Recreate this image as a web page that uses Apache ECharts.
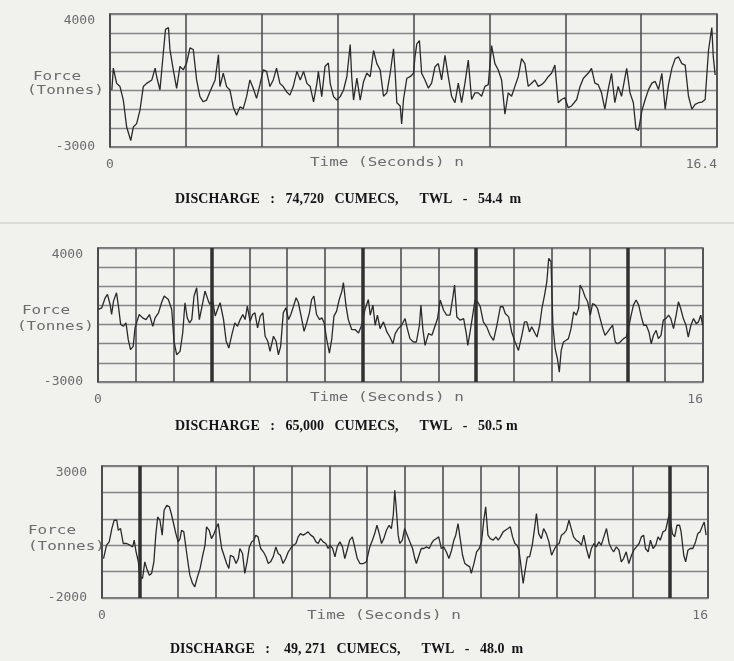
<!DOCTYPE html>
<html><head><meta charset="utf-8">
<script src="https://cdn.jsdelivr.net/npm/echarts@6/dist/echarts.min.js"></script>
<style>html,body{margin:0;padding:0;background:#f1f1ee}#c{width:734px;height:661px}</style>
</head><body><div id="c"></div><script>
// [time (s), force (tonnes)] pairs
const force1 = [[0.05,0],[0.09,1150],[0.18,350],[0.27,180],[0.36,-530],[0.45,-1950],[0.56,-2660],[0.63,-1950],[0.72,-1770],[0.81,-1060],[0.90,180],[0.99,350],[1.13,530],[1.22,1150],[1.26,710],[1.35,0],[1.44,1950],[1.50,3190],[1.58,3280],[1.62,2130],[1.71,1060],[1.80,90],[1.89,1240],[1.98,1060],[2.07,1420],[2.16,2220],[2.25,2130],[2.34,530],[2.43,-350],[2.52,-620],[2.61,-530],[2.70,-90],[2.84,530],[2.93,1860],[2.97,180],[3.06,890],[3.15,180],[3.24,0],[3.33,-890],[3.42,-1330],[3.51,-890],[3.60,-980],[3.69,-350],[3.78,530],[3.87,90],[3.96,-440],[4.05,270],[4.14,1060],[4.23,980],[4.32,180],[4.41,530],[4.50,1150],[4.59,350],[4.68,180],[4.77,-90],[4.86,-270],[4.95,180],[5.05,980],[5.14,530],[5.23,980],[5.32,350],[5.41,180],[5.50,-620],[5.59,350],[5.63,980],[5.72,-350],[5.81,1240],[5.90,1420],[5.95,350],[6.04,-350],[6.13,-530],[6.22,-350],[6.31,0],[6.40,710],[6.49,2390],[6.53,710],[6.58,-530],[6.67,620],[6.76,-530],[6.85,440],[6.94,890],[7.03,700],[7.12,2080],[7.21,1390],[7.30,1050],[7.39,-330],[7.48,-150],[7.57,880],[7.66,2170],[7.70,1050],[7.75,-670],[7.84,-840],[7.88,-1790],[7.93,-500],[8.02,620],[8.11,700],[8.20,880],[8.24,1740],[8.29,2430],[8.36,2600],[8.42,880],[8.51,530],[8.60,100],[8.69,360],[8.78,1220],[8.87,1390],[8.96,530],[9.05,1820],[9.14,700],[9.23,-330],[9.32,-670],[9.41,360],[9.50,-670],[9.59,360],[9.68,1570],[9.77,-500],[9.86,-150],[9.95,-150],[10.04,-330],[10.13,190],[10.22,280],[10.31,2340],[10.40,1390],[10.49,1050],[10.58,530],[10.67,-1270],[10.76,-150],[10.85,-330],[10.94,190],[11.03,700],[11.12,1650],[11.21,1390],[11.30,190],[11.39,360],[11.48,530],[11.57,190],[11.66,280],[11.75,450],[11.84,700],[11.93,880],[12.02,1310],[12.11,-670],[12.20,-500],[12.29,-410],[12.38,-930],[12.47,-840],[12.61,-500],[12.70,190],[12.79,620],[12.92,880],[13.01,1140],[13.10,360],[13.19,280],[13.28,-150],[13.37,-1010],[13.46,20],[13.55,880],[13.64,-670],[13.73,190],[13.82,-330],[13.91,620],[13.96,1140],[14.05,-150],[14.14,-670],[14.21,-2050],[14.28,-2130],[14.37,-1100],[14.46,-500],[14.55,20],[14.64,360],[14.73,450],[14.82,20],[14.91,880],[15.00,-1010],[15.09,280],[15.18,1140],[15.27,1650],[15.36,1740],[15.45,1390],[15.54,1310],[15.63,-330],[15.72,-1010],[15.81,-760],[15.90,-670],[15.99,-640],[16.08,-500],[16.17,2080],[16.26,3290],[16.30,1740],[16.35,790]];

const force2 = [[0.01,790],[0.10,875],[0.19,1400],[0.25,1575],[0.32,1050],[0.36,525],[0.41,1225],[0.49,1660],[0.54,960],[0.60,0],[0.67,-90],[0.74,90],[0.80,-790],[0.86,-1310],[0.93,-1140],[0.98,-175],[1.02,90],[1.09,525],[1.18,350],[1.27,260],[1.36,525],[1.45,-90],[1.51,350],[1.60,610],[1.68,1140],[1.75,1490],[1.86,1310],[1.95,790],[2.01,-875],[2.08,-1575],[2.17,-1400],[2.24,-440],[2.30,1140],[2.36,350],[2.42,90],[2.48,260],[2.54,1490],[2.61,1925],[2.68,260],[2.77,1140],[2.83,1750],[2.92,1225],[2.96,1050],[3.03,1310],[3.10,440],[3.16,790],[3.23,1140],[3.32,260],[3.39,-875],[3.46,-1225],[3.54,-525],[3.62,90],[3.69,-90],[3.76,260],[3.83,525],[3.89,260],[3.95,960],[4.02,175],[4.09,525],[4.15,610],[4.22,-175],[4.29,440],[4.36,610],[4.42,-610],[4.49,-875],[4.55,-1400],[4.64,-610],[4.71,-875],[4.77,-1575],[4.83,-1140],[4.90,610],[4.97,875],[5.04,260],[5.10,525],[5.17,960],[5.24,1400],[5.30,1140],[5.39,260],[5.45,-350],[5.52,90],[5.59,610],[5.65,1310],[5.71,1490],[5.78,525],[5.86,260],[5.92,350],[5.98,90],[6.05,-790],[6.12,-1490],[6.18,-790],[6.24,440],[6.31,700],[6.38,1310],[6.45,1750],[6.49,2190],[6.56,960],[6.62,260],[6.71,-260],[6.80,-260],[6.89,-440],[6.98,0],[7.06,790],[7.15,1310],[7.20,490],[7.27,1015],[7.33,-35],[7.39,490],[7.46,-210],[7.55,140],[7.64,-385],[7.72,-650],[7.80,-1000],[7.86,-470],[7.94,-210],[8.03,-35],[8.12,315],[8.18,-210],[8.25,-735],[8.34,-910],[8.42,-910],[8.50,-35],[8.54,1015],[8.59,-210],[8.65,-1085],[8.74,-470],[8.83,-560],[8.92,-35],[8.98,315],[9.05,1280],[9.14,750],[9.22,490],[9.31,490],[9.38,1365],[9.43,2065],[9.49,400],[9.58,230],[9.67,315],[9.74,-470],[9.78,-1085],[9.84,-385],[9.91,490],[9.97,1280],[10.04,1190],[10.11,930],[10.19,140],[10.28,-120],[10.37,-560],[10.46,-820],[10.55,-35],[10.64,930],[10.71,930],[10.77,580],[10.86,400],[10.94,-385],[11.03,-910],[11.12,-1350],[11.21,-560],[11.28,140],[11.34,140],[11.41,-385],[11.47,-120],[11.54,-385],[11.61,-650],[11.68,-35],[11.74,840],[11.81,1540],[11.87,2240],[11.92,3465],[11.98,3290],[12.03,-35],[12.09,-1260],[12.15,-1785],[12.20,-2485],[12.25,-1350],[12.31,-910],[12.38,-820],[12.44,-735],[12.51,-210],[12.58,665],[12.65,490],[12.71,840],[12.75,2065],[12.82,1800],[12.88,1450],[12.95,1190],[13.02,490],[13.08,1100],[13.15,1015],[13.21,840],[13.28,315],[13.35,-210],[13.41,-560],[13.48,-385],[13.54,-210],[13.61,-35],[13.68,-910],[13.74,-1000],[13.81,-910],[13.90,-735],[13.97,-650],[14.03,-210],[14.09,400],[14.16,1015],[14.23,1280],[14.30,1015],[14.37,400],[14.43,-35],[14.50,-35],[14.57,-385],[14.63,-1000],[14.69,-560],[14.76,-300],[14.82,-735],[14.89,-560],[14.95,230],[15.02,315],[15.09,490],[15.15,315],[15.22,-210],[15.29,490],[15.35,1190],[15.41,840],[15.48,315],[15.55,-35],[15.61,-650],[15.68,-35],[15.75,315],[15.82,50],[15.88,140],[15.94,490],[15.99,-35]];

const force3 = [[0.04,-505],[0.08,-250],[0.12,0],[0.19,125],[0.26,630],[0.32,945],[0.39,945],[0.43,565],[0.49,630],[0.56,65],[0.65,65],[0.74,0],[0.81,-65],[0.85,190],[0.90,-250],[0.96,-630],[1.00,-1200],[1.07,-1260],[1.13,-630],[1.18,-880],[1.25,-1135],[1.31,-1070],[1.37,-630],[1.42,380],[1.47,1070],[1.53,945],[1.59,380],[1.64,1325],[1.71,1510],[1.78,1450],[1.84,1135],[1.90,755],[1.95,440],[2.01,125],[2.06,250],[2.10,565],[2.16,505],[2.22,-125],[2.28,-755],[2.32,-1135],[2.39,-1450],[2.45,-1575],[2.52,-1200],[2.59,-880],[2.66,-380],[2.72,0],[2.76,695],[2.83,565],[2.89,250],[2.96,440],[3.01,630],[3.07,820],[3.11,380],[3.16,-125],[3.22,-380],[3.29,-695],[3.35,-880],[3.39,-380],[3.47,-440],[3.54,-695],[3.60,-505],[3.64,-125],[3.71,-315],[3.77,-1070],[3.83,-630],[3.89,-65],[3.95,125],[4.01,190],[4.06,380],[4.12,315],[4.19,-125],[4.26,-250],[4.33,-440],[4.39,-695],[4.45,-630],[4.52,-440],[4.59,-65],[4.65,-315],[4.71,-380],[4.78,-695],[4.85,-505],[4.92,-250],[4.98,-125],[5.05,0],[5.12,65],[5.18,315],[5.24,440],[5.31,380],[5.38,440],[5.44,505],[5.51,380],[5.58,315],[5.65,125],[5.71,65],[5.77,250],[5.84,125],[5.91,65],[5.97,-125],[6.02,0],[6.09,-125],[6.15,-440],[6.21,-65],[6.28,125],[6.35,-65],[6.41,-505],[6.47,-190],[6.54,190],[6.61,315],[6.68,-125],[6.74,-505],[6.81,-695],[6.90,-695],[6.98,-630],[7.07,-65],[7.14,190],[7.20,440],[7.26,755],[7.32,440],[7.38,65],[7.44,250],[7.51,565],[7.58,755],[7.64,630],[7.69,1135],[7.73,2080],[7.77,1385],[7.82,380],[7.86,65],[7.93,190],[7.99,630],[8.06,380],[8.13,125],[8.20,-125],[8.26,-505],[8.30,-695],[8.37,-380],[8.43,-125],[8.50,-125],[8.57,-65],[8.64,-125],[8.70,65],[8.76,190],[8.83,250],[8.89,315],[8.96,-125],[9.02,-65],[9.09,-250],[9.16,-505],[9.23,-190],[9.29,190],[9.34,380],[9.40,820],[9.45,315],[9.52,-380],[9.58,-695],[9.64,-755],[9.71,-820],[9.75,-1070],[9.82,-695],[9.89,-250],[9.96,-125],[10.02,125],[10.08,945],[10.13,1450],[10.19,380],[10.25,250],[10.33,190],[10.40,315],[10.46,190],[10.52,315],[10.59,505],[10.65,565],[10.72,630],[10.78,695],[10.84,315],[10.90,65],[10.96,0],[11.01,-190],[11.07,-880],[11.12,-1450],[11.18,-880],[11.23,-440],[11.29,-440],[11.36,0],[11.42,630],[11.47,1200],[11.53,440],[11.60,250],[11.66,630],[11.73,440],[11.80,125],[11.87,-380],[11.93,-190],[12.00,0],[12.07,65],[12.13,380],[12.19,440],[12.26,565],[12.33,945],[12.39,630],[12.45,315],[12.52,190],[12.59,125],[12.66,0],[12.72,380],[12.79,-125],[12.86,-505],[12.92,-125],[12.99,65],[13.05,-65],[13.12,125],[13.18,0],[13.25,315],[13.32,630],[13.39,65],[13.45,-125],[13.51,-250],[13.58,-65],[13.65,-190],[13.71,-630],[13.77,-505],[13.84,-250],[13.91,-695],[13.98,-380],[14.04,-190],[14.11,-65],[14.18,65],[14.24,315],[14.30,380],[14.35,-125],[14.42,-250],[14.48,190],[14.55,-125],[14.62,0],[14.68,315],[14.74,190],[14.81,505],[14.88,565],[14.94,945],[14.98,1200],[15.06,440],[15.12,315],[15.18,755],[15.25,755],[15.29,505],[15.36,-380],[15.41,-630],[15.47,-190],[15.53,-125],[15.60,-125],[15.67,125],[15.73,440],[15.79,505],[15.86,755],[15.90,880],[15.95,380]];

const titles = [
  'DISCHARGE   :   74,720   CUMECS,      TWL   -   54.4  m',
  'DISCHARGE   :   65,000   CUMECS,      TWL   -   50.5 m',
  'DISCHARGE   :    49, 271   CUMECS,      TWL   -   48.0  m'
];
const yMinVals = [-3000, -3000, -2000];
const yMaxVals = [4000, 4000, 3000];
const xMaxVals = [16.4, 16, 16];
const xSteps = [2.05, 1, 1];
const xTickLabels = [['0', '16.4'], ['0', '16'], ['0', '16']];
const thickLines = [[], [3, 7, 10, 14], [1, 15]];
const yName = ['Force', '(Tonnes)'];
const xName = 'Time (Seconds) n';

const allData = [force1, force2, force3];
const grids = [
  {left: 110, top: 14, width: 607, height: 133},
  {left: 98, top: 248, width: 605, height: 134},
  {left: 102, top: 466, width: 606, height: 132}
];
const titlePos = [{left: 175, top: 192}, {left: 175, top: 419}, {left: 170, top: 642}];
const forcePos = [[33, 77, 27, 91], [22, 311, 17, 327], [28, 531, 28, 547]];
const timePos = [[310, 163], [310, 398], [307, 616]];

const mono = '"DejaVu Sans Mono", monospace';
const labelColor = '#6c6c6c';

const chart = echarts.init(document.getElementById('c'), null, {renderer: 'canvas'});
const option = {
  backgroundColor: '#f1f1ee',
  animation: false,
  title: titles.map((t, i) => ({
    text: t, left: titlePos[i].left, top: titlePos[i].top, padding: 0,
    textStyle: {fontFamily: '"Liberation Serif", serif', fontWeight: 'bold', fontSize: 14, color: '#151515'}
  })),
  grid: grids.map(g => Object.assign({show: true, borderColor: '#4a4a4a', borderWidth: 1.5, backgroundColor: 'transparent', containLabel: false}, g)),
  xAxis: grids.map((g, i) => ({
    type: 'value', gridIndex: i, min: 0, max: xMaxVals[i], interval: xSteps[i],
    axisLine: {show: false}, axisTick: {show: false},
    splitLine: {show: true, lineStyle: {color: '#505050', width: 1.6}},
    axisLabel: {
      margin: 11, color: labelColor, fontFamily: mono, fontSize: 13,
      formatter: (v) => (Math.abs(v) < 1e-9 ? xTickLabels[i][0] : (Math.abs(v - xMaxVals[i]) < 1e-6 ? xTickLabels[i][1] : '')),
      alignMaxLabel: 'right'
    }
  })),
  yAxis: grids.map((g, i) => ({
    type: 'value', gridIndex: i, min: yMinVals[i], max: yMaxVals[i], interval: 1000,
    axisLine: {show: true, lineStyle: {color: '#4a4a4a', width: 1.6}}, axisTick: {show: false},
    splitLine: {show: true, lineStyle: {color: '#858585', width: 1.3}},
    axisLabel: {
      margin: 15, color: labelColor, fontFamily: mono, fontSize: 13,
      verticalAlignMaxLabel: 'top',
      formatter: (v) => ((v === yMinVals[i] || v === yMaxVals[i]) ? String(v) : '')
    }
  })),
  series: allData.map((d, i) => ({
    type: 'line', xAxisIndex: i, yAxisIndex: i, data: d,
    symbol: 'none', showSymbol: false, smooth: false,
    lineStyle: {color: '#2a2a2a', width: 1.3},
    markLine: {
      silent: true, symbol: 'none', label: {show: false},
      lineStyle: {color: '#303030', width: 3.5, type: 'solid'},
      data: thickLines[i].map(x => ({xAxis: x}))
    }
  })),
  graphic: [].concat(
    forcePos.map(p => ({type: 'text', x: p[0], y: p[1], scaleX: 1.33, style: {text: yName[0], font: '12px ' + mono, fill: labelColor, textAlign: 'left', textVerticalAlign: 'middle'}})),
    forcePos.map(p => ({type: 'text', x: p[2], y: p[3], scaleX: 1.33, style: {text: yName[1], font: '12px ' + mono, fill: labelColor, textAlign: 'left', textVerticalAlign: 'middle'}})),
    timePos.map(p => ({type: 'text', x: p[0], y: p[1], scaleX: 1.33, style: {text: xName, font: '12px ' + mono, fill: labelColor, textAlign: 'left', textVerticalAlign: 'middle'}})),
    [{type: 'line', shape: {x1: 0, y1: 223, x2: 734, y2: 223}, style: {stroke: '#c4c4c2', lineWidth: 1}}]
  )
};
chart.setOption(option);
</script></body></html>
